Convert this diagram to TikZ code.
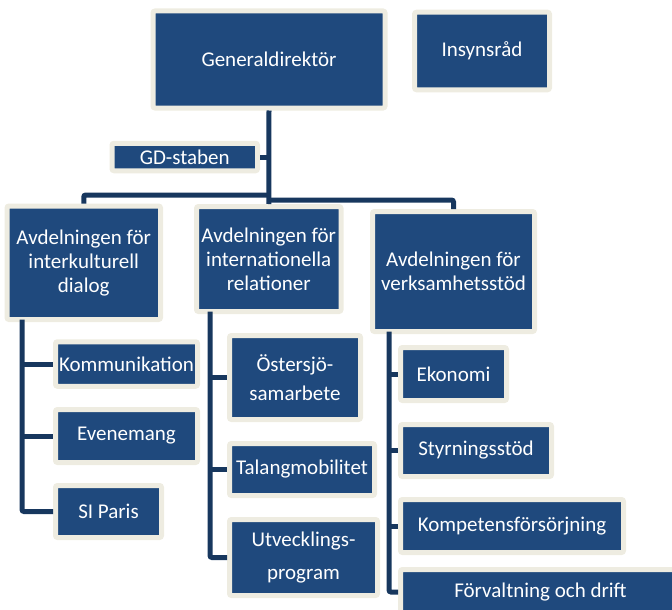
\documentclass[tikz,border=0pt]{standalone}
\usepackage{fontspec}
\setmainfont{Carlito}
\definecolor{orgblue}{HTML}{1F497D}
\definecolor{orgcream}{HTML}{EEECE1}
\definecolor{orgline}{HTML}{17375E}
\begin{document}
\begin{tikzpicture}[
        x=1pt, y=-1pt,
        unit/.style={
            rectangle,
            rounded corners=2pt,
            draw=orgcream,
            line width=5pt,
            fill=orgblue,
            text=white,
            align=center,
            inner sep=0pt,
            font=\fontsize{21}{24}\selectfont
        },
        link/.style={draw=orgline, line width=5pt, rounded corners=2pt}
    ]
    \clip (0,0) rectangle (672,610);
    % Nodes at fixed coordinates
    \node[unit, minimum width=232, minimum height=97] (gd) at (269, 59.5) {Generaldirektör};
    \node[unit, minimum width=135, minimum height=77.5] (insyn) at (482, 51) {Insynsråd};
    \node[unit, minimum width=145.5, minimum height=27.5] (staben) at (184.75, 157) {GD-staben};

    \node[unit, minimum width=153.5, minimum height=113.5] (dialog) at (83.75, 262.75) {Avdelningen för\\interkulturell\\dialog};
    \node[unit, minimum width=144.5, minimum height=105] (relationer) at (268.75, 259) {Avdelningen för\\internationella\\relationer};
    \node[unit, minimum width=162, minimum height=120] (verksamhet) at (453.5, 271.5) {Avdelningen för\\verksamhetsstöd};

    \node[unit, minimum width=142, minimum height=44.5] (kommunikation) at (126.5, 364) {Kommunikation};
    \node[unit, minimum width=142, minimum height=53] (evenemang) at (126.5, 436) {Evenemang};
    \node[unit, minimum width=106, minimum height=52] (siparis) at (108.5, 511.5) {SI Paris};

    \node[unit, minimum width=131, minimum height=84] (ostersjo) at (295, 377.5) {Östersjö-\\[5pt]samarbete};
    \node[unit, minimum width=145, minimum height=52] (talang) at (302, 469.5) {Talangmobilitet};
    \node[unit, minimum width=148, minimum height=76] (utveckling) at (303.5, 557.5) {Utvecklings-\\[9pt]program};

    \node[unit, minimum width=106, minimum height=53] (ekonomi) at (453.5, 374) {Ekonomi};
    \node[unit, minimum width=151, minimum height=52] (styrning) at (476, 450.5) {Styrningsstöd};
    \node[unit, minimum width=223, minimum height=53] (kompetens) at (512, 526) {Kompetensförsörjning};
    \node[unit, minimum width=280, minimum height=45] (forvaltning) at (540.5, 592) {Förvaltning och drift};

    % Connections
    \coordinate (busL) at (269, 195);
    \coordinate (busR) at (269, 200);
    \coordinate (spineL) at (22, 319.5);
    \coordinate (spineM) at (210, 311.5);
    \coordinate (spineR) at (389, 331.5);

    \draw[link] (gd.south) -- (relationer.north);
    \draw[link] (staben.east) -- (staben.east -| gd.south);
    \draw[link] (busL) -| (dialog.north);
    \draw[link] (busR) -| (verksamhet.north);

    \draw[link] (spineL) |- (siparis.west);
    \draw[link] (spineL |- kommunikation.west) -- (kommunikation.west);
    \draw[link] (spineL |- evenemang.west) -- (evenemang.west);

    \draw[link] (spineM) |- (utveckling.west);
    \draw[link] (spineM |- ostersjo.west) -- (ostersjo.west);
    \draw[link] (spineM |- talang.west) -- (talang.west);

    \draw[link] (spineR) |- (forvaltning.west);
    \draw[link] (spineR |- ekonomi.west) -- (ekonomi.west);
    \draw[link] (spineR |- styrning.west) -- (styrning.west);
    \draw[link] (spineR |- kompetens.west) -- (kompetens.west);
\end{tikzpicture}
\end{document}
